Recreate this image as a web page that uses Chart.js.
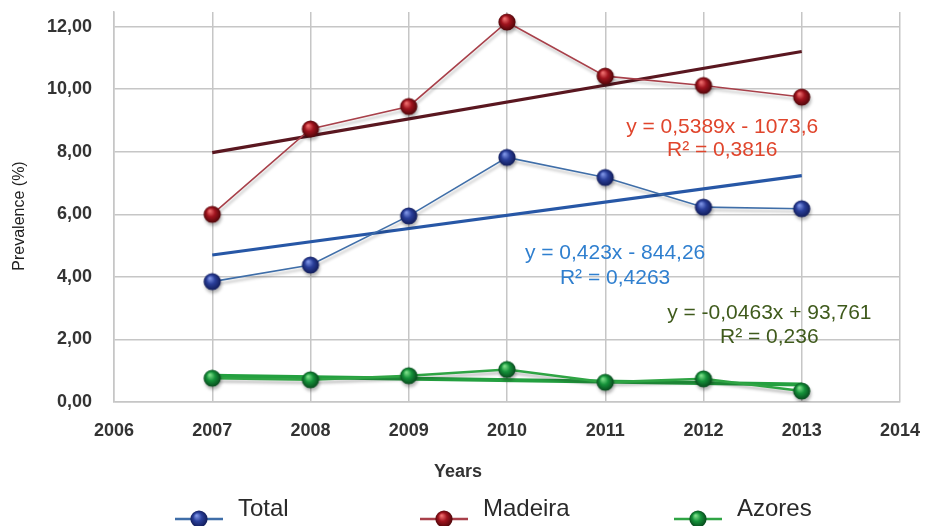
<!DOCTYPE html>
<html>
<head>
<meta charset="utf-8">
<script src="https://cdn.jsdelivr.net/npm/chart.js@4/dist/chart.umd.min.js"></script>
<style>
  html, body { margin: 0; padding: 0; background: #ffffff; }
  #wrap { width: 936px; height: 526px; }
</style>
</head>
<body>
<div id="wrap"><canvas id="chart" width="936" height="526"></canvas></div>
<script>
// Prevalence by year (%)
const years = [2007, 2008, 2009, 2010, 2011, 2012, 2013];
const totalValues = [3.85, 4.38, 5.95, 7.82, 7.18, 6.23, 6.18];
const madeiraValues = [6.00, 8.73, 9.45, 12.15, 10.42, 10.12, 9.75];
const azoresValues = [0.76, 0.71, 0.84, 1.04, 0.63, 0.74, 0.35];

// Axis ticks
const xTicks = [2006, 2007, 2008, 2009, 2010, 2011, 2012, 2013, 2014];
const yTicks = [0, 2, 4, 6, 8, 10, 12];

// Linear trend lines: y = slope * x + intercept, with R²
const seriesNames = ['Total', 'Madeira', 'Azores'];
const trendSlopes = [0.423, 0.5389, -0.0463];
const trendIntercepts = [-844.26, -1073.6, 93.761];
const trendR2 = [0.4263, 0.3816, 0.236];

const fmt = v => String(v).replace('.', ',');
const trendPoints = i => [years[0], years[years.length - 1]].map(x => ({ x, y: trendSlopes[i] * x + trendIntercepts[i] }));
const equation = i => 'y = ' + fmt(trendSlopes[i]) + 'x ' + (trendIntercepts[i] < 0 ? '- ' : '+ ') + fmt(Math.abs(trendIntercepts[i]));

// Shaded marker balls
function makeBall(light, mid, dark) {
  const c = document.createElement('canvas');
  c.width = 20; c.height = 20;
  const g = c.getContext('2d');
  const grad = g.createRadialGradient(7.5, 6.5, 0.5, 10, 10, 9);
  grad.addColorStop(0, light);
  grad.addColorStop(0.45, mid);
  grad.addColorStop(1, dark);
  g.beginPath();
  g.arc(10, 10, 8.6, 0, Math.PI * 2);
  g.fillStyle = grad;
  g.fill();
  return c;
}
const balls = [
  makeBall('#7f95e6', '#2a3f9a', '#101a55'),
  makeBall('#f07070', '#a0141e', '#4a0508'),
  makeBall('#7ee08a', '#15923a', '#06441a')
];
const lineColors = ['#3f6ea8', '#a8404a', '#2fa444'];

const points = vals => years.map((x, i) => ({ x, y: vals[i] }));

const seriesData = [totalValues, madeiraValues, azoresValues];
const datasets = [];
seriesData.forEach((vals, i) => {
  datasets.push({
    label: seriesNames[i],
    data: points(vals),
    borderColor: lineColors[i],
    borderWidth: i === 2 ? 2.5 : 1.6,
    pointStyle: balls[i],
    pointRadius: 9,
    shadow: true,
    order: 1 + i
  });
});
const trendColors = ['#2757a6', '#5a1720', '#24a040'];
[0, 1, 2].forEach(i => {
  datasets.push({
    label: 'trend ' + seriesNames[i],
    data: trendPoints(i),
    borderColor: trendColors[i],
    borderWidth: i === 2 ? 4 : 3.2,
    pointRadius: 0,
    order: 10 + i
  });
});

// Equation labels, positioned in data units
const labelPos = [
  { x: 2011.1, y: 4.77, r2y: 3.97, color: '#2f7fcf' },
  { x: 2012.19, y: 8.80, r2y: 8.06, color: '#e0452c' },
  { x: 2012.67, y: 2.85, r2y: 2.08, color: '#3f5a1c' }
];

const decorations = {
  id: 'decorations',
  beforeDatasetDraw(chart, args) {
    if (chart.data.datasets[args.index].shadow) {
      const ctx = chart.ctx;
      ctx.save();
      ctx.shadowColor = 'rgba(0,0,0,0.28)';
      ctx.shadowBlur = 3;
      ctx.shadowOffsetX = 1;
      ctx.shadowOffsetY = 3;
    }
  },
  afterDatasetDraw(chart, args) {
    if (chart.data.datasets[args.index].shadow) chart.ctx.restore();
  },
  afterDraw(chart) {
    const ctx = chart.ctx;
    const xs = chart.scales.x, ys = chart.scales.y;
    ctx.save();
    // trend equations
    ctx.font = '21px "Liberation Sans", Arial, sans-serif';
    ctx.textAlign = 'center';
    ctx.textBaseline = 'middle';
    labelPos.forEach((p, i) => {
      ctx.fillStyle = p.color;
      const cx = xs.getPixelForValue(p.x);
      ctx.fillText(equation(i), cx, ys.getPixelForValue(p.y));
      ctx.fillText('R² = ' + fmt(trendR2[i]), cx, ys.getPixelForValue(p.r2y));
    });
    // axis titles
    ctx.fillStyle = '#333333';
    ctx.font = 'bold 18px "Liberation Sans", Arial, sans-serif';
    ctx.fillText('Years', 458, 472);
    ctx.save();
    ctx.translate(20, 216);
    ctx.rotate(-Math.PI / 2);
    ctx.font = '16px "Liberation Sans", Arial, sans-serif';
    ctx.fillStyle = '#222222';
    ctx.fillText('Prevalence (%)', 0, 0);
    ctx.restore();
    // legend
    const legendX = [199, 444, 698];
    ctx.font = '24px "Liberation Sans", Arial, sans-serif';
    ctx.textAlign = 'left';
    legendX.forEach((lx, i) => {
      const ly = 519;
      ctx.strokeStyle = lineColors[i];
      ctx.lineWidth = 2.5;
      ctx.beginPath();
      ctx.moveTo(lx - 24, ly);
      ctx.lineTo(lx + 24, ly);
      ctx.stroke();
      ctx.drawImage(balls[i], lx - 10, ly - 10);
      ctx.fillStyle = '#2a2a2a';
      ctx.fillText(seriesNames[i], lx + 39, 509);
    });
    ctx.restore();
  }
};

new Chart(document.getElementById('chart'), {
  type: 'line',
  data: { datasets },
  plugins: [decorations],
  options: {
    responsive: false,
    animation: false,
    devicePixelRatio: 1,
    layout: { padding: { left: 0, top: 12, right: 36, bottom: 0 } },
    plugins: { legend: { display: false }, tooltip: { enabled: false } },
    scales: {
      x: {
        type: 'linear',
        min: 2006,
        max: 2014,
        afterBuildTicks: s => { s.ticks = xTicks.map(v => ({ value: v })); },
        afterFit: s => { s.height = 124; s.paddingLeft = 0; s.paddingRight = 0; },
        grid: { color: '#c6c6c6', lineWidth: 1.5, drawTicks: false },
        border: { color: '#c6c6c6', width: 1.5 },
        ticks: {
          padding: 18,
          color: '#333333',
          font: { family: '"Liberation Sans", Arial, sans-serif', size: 18, weight: 'bold' },
          callback: v => String(v)
        }
      },
      y: {
        type: 'linear',
        min: 0,
        max: 12.47,
        afterBuildTicks: s => { s.ticks = yTicks.map(v => ({ value: v })); },
        afterFit: s => { s.width = 114; s.paddingTop = 0; s.paddingBottom = 0; },
        grid: { color: '#c6c6c6', lineWidth: 1.5, drawTicks: false },
        border: { color: '#c6c6c6', width: 1.5 },
        ticks: {
          padding: 22,
          color: '#333333',
          font: { family: '"Liberation Sans", Arial, sans-serif', size: 18, weight: 'bold' },
          callback: v => v.toFixed(2).replace('.', ',')
        }
      }
    }
  }
});
</script>
</body>
</html>
